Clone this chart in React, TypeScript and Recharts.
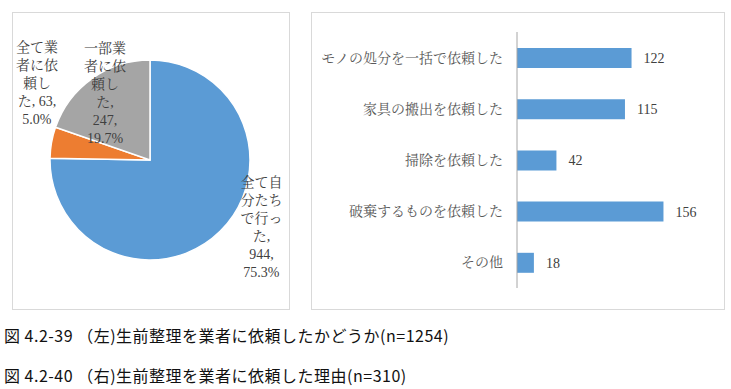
import { Bar, BarChart, Cell, LabelList, Pie, PieChart, XAxis, YAxis } from 'recharts';

const pieNames = ['全て自分たちで行った', '全て業者に依頼した', '一部業者に依頼した'];
const pieValues = [944, 63, 247];
const pieColors = ['#5B9BD5', '#ED7D31', '#A5A5A5'];
// wrapped label text as drawn in the original (name, value, percent)
const pieLabelLines = [
  ['全て自', '分たち', 'で行っ', 'た,', '{v},', '{p}'],
  ['全て業', '者に依', '頼し', 'た, {v},', '{p}'],
  ['一部業', '者に依', '頼し', 'た,', '{v},', '{p}'],
];
// label anchor: polar angle (deg, math) and radius factor from the pie centre
const pieLabelPlace = [
  { angle: -31, r: 1.3 },
  { angle: 145.6, r: 1.37 },
  { angle: 123.7, r: 0.81 },
];

const barNames = ['モノの処分を一括で依頼した', '家具の搬出を依頼した', '掃除を依頼した', '破棄するものを依頼した', 'その他'];
const barValues = [122, 115, 42, 156, 18];

const captions = [
  '図 4.2-39 （左)生前整理を業者に依頼したかどうか(n=1254)',
  '図 4.2-40 （右)生前整理を業者に依頼した理由(n=310)',
];

const total = pieValues.reduce((a, b) => a + b, 0);
const pieData = pieNames.map((name, i) => ({ name, value: pieValues[i] }));
const barData = barNames.map((name, i) => ({ name, value: barValues[i] }));

const serif = '"Liberation Serif", "Noto Serif CJK JP", "Noto Sans CJK JP", serif';
const RAD = Math.PI / 180;

function PieLabel(props: any) {
  const { cx, cy, outerRadius, index, value } = props;
  const place = pieLabelPlace[index];
  const x = cx + outerRadius * place.r * Math.cos(place.angle * RAD);
  const y = cy - outerRadius * place.r * Math.sin(place.angle * RAD);
  const pct = ((value / total) * 100).toFixed(1) + '%';
  const lines = pieLabelLines[index].map((l) => l.replace('{v}', String(value)).replace('{p}', pct));
  const lh = 18;
  const y0 = y - ((lines.length - 1) * lh) / 2 + 5;
  return (
    <text x={x} y={y0} textAnchor="middle" fill="#404040" fontSize={14} fontFamily={serif}>
      {lines.map((l, i) => (
        <tspan key={i} x={x} dy={i === 0 ? 0 : lh}>
          {l}
        </tspan>
      ))}
    </text>
  );
}

const box: React.CSSProperties = {
  position: 'absolute',
  top: 12,
  height: 298,
  border: '1px solid #d9d9d9',
  boxSizing: 'border-box',
  background: '#fff',
};

export default function App() {
  return (
    <div style={{ position: 'absolute', left: 0, top: 0, width: 731, height: 389, background: '#fff' }}>
      <div style={{ ...box, left: 12, width: 278 }}>
        <PieChart width={276} height={296} margin={{ top: 0, right: 0, bottom: 0, left: 0 }}>
          <Pie
            data={pieData}
            dataKey="value"
            nameKey="name"
            cx={137}
            cy={147}
            outerRadius={100}
            startAngle={90}
            endAngle={-270}
            stroke="#fff"
            strokeWidth={1.5}
            label={PieLabel}
            labelLine={false}
            isAnimationActive={false}
          >
            {pieData.map((d, i) => (
              <Cell key={d.name} fill={pieColors[i]} />
            ))}
          </Pie>
        </PieChart>
      </div>

      <div style={{ ...box, left: 311, width: 414 }}>
        <BarChart
          width={412}
          height={296}
          data={barData}
          layout="vertical"
          margin={{ top: 19, right: 38, bottom: 21, left: 0 }}
        >
          <XAxis type="number" domain={[0, 180]} hide />
          <YAxis
            type="category"
            dataKey="name"
            width={205}
            axisLine={{ stroke: '#a6a6a6' }}
            tickLine={false}
            tickSize={0}
            tickMargin={14}
            tick={{ fill: '#595959', fontSize: 14, fontFamily: serif }}
          />
          <Bar dataKey="value" fill="#5B9BD5" barSize={20} isAnimationActive={false}>
            <LabelList dataKey="value" position="right" offset={12} fill="#404040" fontSize={14} fontFamily={serif} />
          </Bar>
        </BarChart>
      </div>

      {captions.map((c, i) => (
        <div
          key={i}
          style={{
            position: 'absolute',
            left: 4,
            top: 324 + i * 40,
            fontSize: 16,
            lineHeight: '22px',
            letterSpacing: 0.5,
            whiteSpace: 'nowrap',
            color: '#111',
            fontFamily: '"Noto Sans CJK JP", sans-serif',
          }}
        >
          {c}
        </div>
      ))}
    </div>
  );
}
